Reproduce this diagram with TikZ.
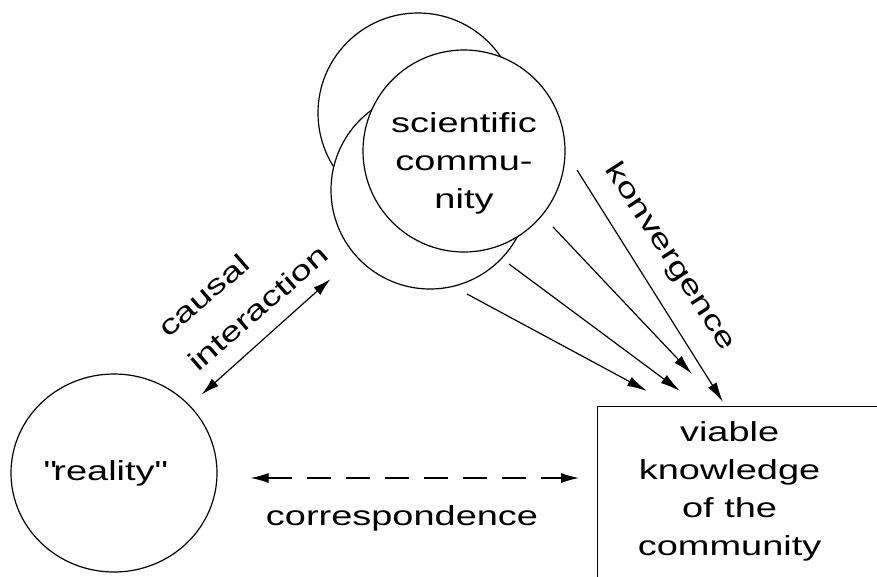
\documentclass[tikz,border=0pt]{standalone}
\usepackage{fontspec}
\setmainfont{Liberation Sans}[FakeStretch=1.38]
\usetikzlibrary{arrows.meta,shapes.geometric}

\begin{document}
\begin{tikzpicture}[x=1pt, y=-1pt, line width=1.2pt,
  every node/.style={font=\fontsize{27.5}{38}\selectfont},
  ring/.style={circle, draw, fill=white, inner sep=0pt},
  tip/.style={-{Latex[length=20pt,width=10pt]}},
  twotip/.style={{Latex[length=18pt,width=10pt]}-{Latex[length=18pt,width=10pt]}}]
\useasboundingbox (0,0) rectangle (877,576);
\clip (0,0) rectangle (877,576);

% the community, back to front
\node[ring, minimum size=200pt] (back) at (418,113) {};
\node[ring, minimum size=198pt] (lower) at (430,190) {};
\node[ring, minimum size=202pt, label={[align=center, yshift=-12pt]center:scientific\\commu-\\nity}] (sci) at (464,151) {};

\node[ellipse, draw, minimum width=206pt, minimum height=198pt, inner sep=0pt, label={[xshift=-10pt]center:\textquotedbl reality\textquotedbl}] (reality) at (114,473) {};
\node[draw, anchor=north west, minimum width=320pt, minimum height=220pt, inner sep=0pt,
  label={[align=center, xshift=-28pt, yshift=25pt]center:viable\\knowledge\\of the\\community}] (kbox) at (597,406) {};

% causal interaction
\draw[twotip, shorten <=34pt, shorten >=16pt] (lower) -- (reality);
\node[rotate=41, align=left, inner sep=1pt] (causal) at (243,291) {causal\\[7pt]interaction};

% correspondence
\draw[twotip, dash pattern=on 24pt off 15pt, shorten <=33pt, shorten >=18pt]
  ([yshift=-5pt]reality.east) -- ([yshift=-5pt]reality.east -| kbox.west);
\node (corr) at (402,518) {correspondence};

% konvergence
\foreach \n/\sx/\sy/\ex/\ey in {1/577/170/723/402, 2/553/227/692/374, 3/509/264/680/391, 4/467/294/647/391}
{
  \coordinate (from\n) at (\sx,\sy);
  \coordinate (to\n) at (\ex,\ey);
  \draw[tip] (from\n) -- (to\n);
}
\node[rotate=-57] (konv) at (670,257) {konvergence};
\end{tikzpicture}
\end{document}
